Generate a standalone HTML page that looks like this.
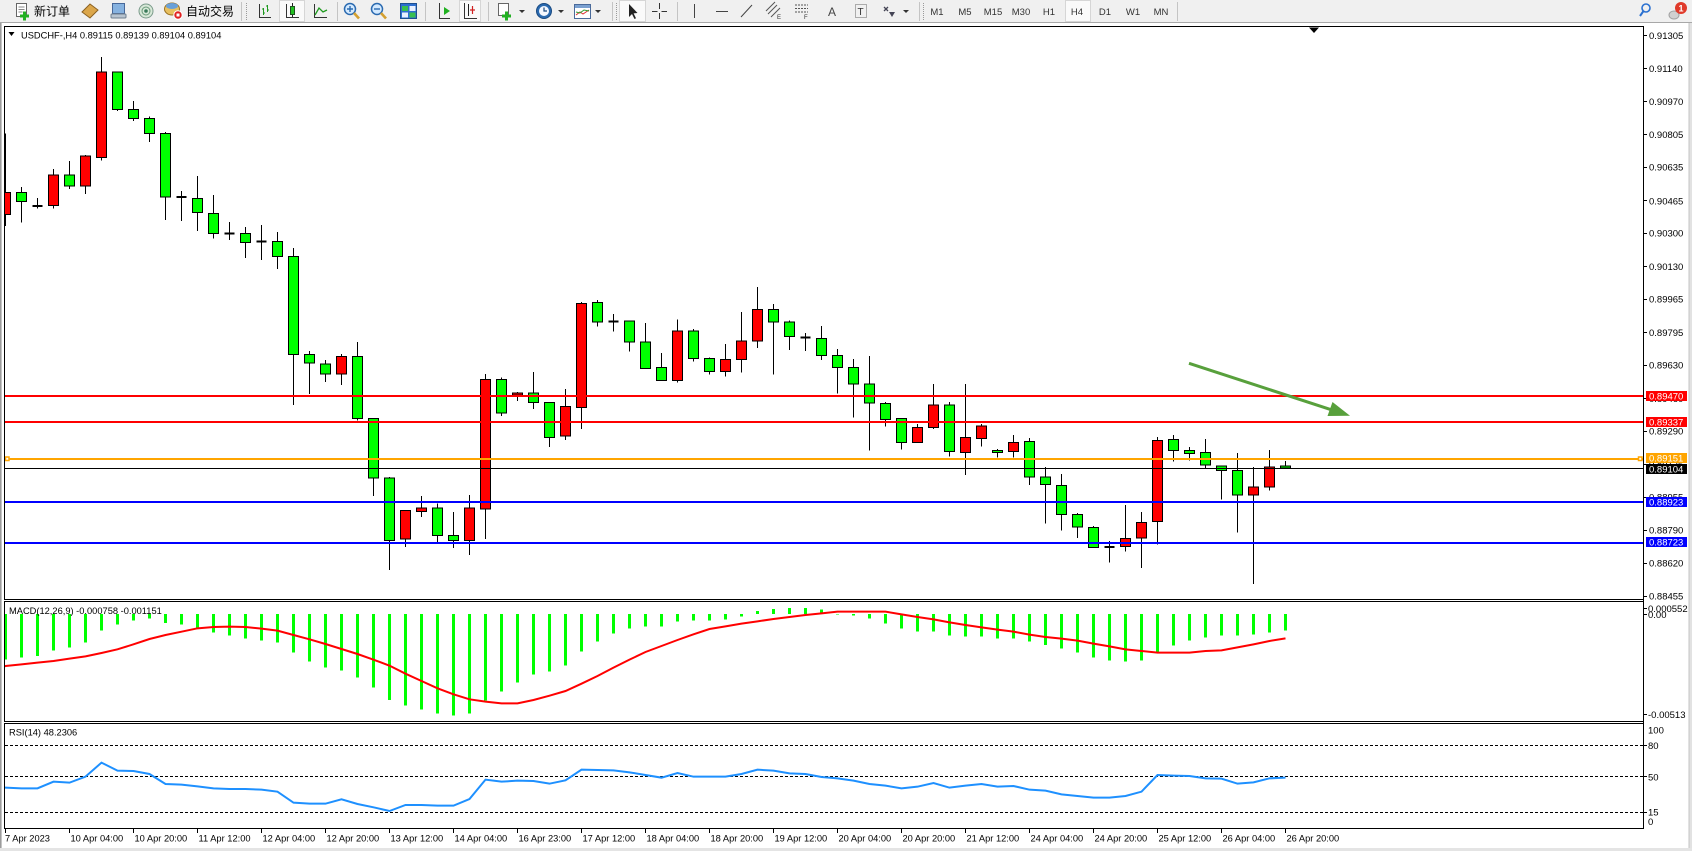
<!DOCTYPE html>
<html><head><meta charset="utf-8"><style>
html,body{margin:0;padding:0;background:#fff;width:1692px;height:851px;overflow:hidden}
svg{display:block}
text{font-family:"Liberation Sans","Noto Sans CJK SC",sans-serif}
</style></head><body>
<svg width="1692" height="851" viewBox="0 0 1692 851" xmlns="http://www.w3.org/2000/svg">
<defs>
<clipPath id="mc"><rect x="5" y="27" width="1638" height="572"/></clipPath>
<clipPath id="macdc"><rect x="5" y="602" width="1638" height="119"/></clipPath>
<clipPath id="rsic"><rect x="5" y="724" width="1638" height="104"/></clipPath>
</defs>
<rect x="0" y="0" width="1692" height="851" fill="#fff"/>

<!-- TOOLBAR -->
<rect x="0" y="0" width="1692" height="23" fill="#f0f0f0"/>
<line x1="0" y1="22.5" x2="1692" y2="22.5" stroke="#a8a8a8"/>
<!-- highlight boxes -->
<rect x="279.5" y="0.5" width="25" height="21" fill="#fafafa" stroke="#d6d6d6"/>
<rect x="459.5" y="0.5" width="21" height="21" fill="#fafafa" stroke="#d6d6d6"/>
<rect x="619.5" y="0.5" width="26" height="21" fill="#fafafa" stroke="#d6d6d6"/>
<rect x="1065.5" y="0.5" width="25" height="21" fill="#fafafa" stroke="#d6d6d6"/>
<!-- new order -->
<rect x="16.5" y="3.5" width="10" height="13" fill="#fff" stroke="#666"/>
<path d="M18.5 7h6M18.5 9.5h6M18.5 12h4" stroke="#888"/>
<path d="M20 16h9M24.5 11.5v9" stroke="#22b022" stroke-width="3"/>
<text x="34" y="15.5" font-size="12" fill="#000">新订单</text>
<!-- book -->
<polygon points="82,12 90,4 98,10 90,18" fill="#dba64a" stroke="#8a6020"/>
<!-- monitor -->
<rect x="112.5" y="3.5" width="12" height="10" fill="#86b2e0" stroke="#47689a"/>
<rect x="111" y="14" width="15" height="4" rx="1" fill="#b8c4d0" stroke="#70808f"/>
<!-- signal -->
<circle cx="146" cy="11" r="7" fill="#d8e8d8" stroke="#7a9a8a"/>
<circle cx="146" cy="11" r="4" fill="none" stroke="#6a9a7a"/>
<circle cx="146" cy="11" r="1.8" fill="#3a7a5a"/>
<!-- auto trading -->
<ellipse cx="172" cy="9" rx="7.5" ry="6" fill="#e8c060" stroke="#9a7020"/>
<ellipse cx="172" cy="6" rx="6" ry="3" fill="#6aa0d8"/>
<circle cx="178" cy="15" r="4.2" fill="#e02020" stroke="#fff"/>
<rect x="176.5" y="13.5" width="3" height="3" fill="#fff"/>
<text x="186" y="15.5" font-size="12" fill="#000">自动交易</text>
<line x1="241.5" y1="2" x2="241.5" y2="21" stroke="#c4c4c4"/>
<line x1="246.5" y1="3" x2="246.5" y2="20" stroke="#9a9a9a" stroke-dasharray="1,1"/>
<!-- chart type icons -->
<path d="M259.5 4V17.5H271" stroke="#333" fill="none"/>
<path d="M263.5 8V15M262 9h1.5M263.5 13h1.5M267.5 5V12M266 6h1.5M267.5 10h1.5" stroke="#1f9a1f" fill="none"/>
<path d="M286.5 4V17.5H299" stroke="#333" fill="none"/>
<line x1="292.5" y1="3" x2="292.5" y2="17" stroke="#222"/>
<rect x="290.5" y="6.5" width="4" height="8" fill="#22c022" stroke="#205020"/>
<path d="M314.5 4V17.5H327" stroke="#333" fill="none"/>
<path d="M315 15 L319 8 L323 12 L327 10" stroke="#1f9a1f" fill="none" stroke-width="1.3"/>
<line x1="337.5" y1="2" x2="337.5" y2="21" stroke="#c4c4c4"/>
<!-- zoom -->
<circle cx="350" cy="9" r="5.5" fill="#d4eaff" stroke="#2a6ab0" stroke-width="1.5"/>
<path d="M347 9h6M350 6v6" stroke="#2a6ab0" stroke-width="1.4"/>
<line x1="354" y1="13" x2="359" y2="18.5" stroke="#d4a030" stroke-width="2.6"/>
<circle cx="377" cy="9" r="5.5" fill="#d4eaff" stroke="#2a6ab0" stroke-width="1.5"/>
<path d="M374 9h6" stroke="#2a6ab0" stroke-width="1.4"/>
<line x1="381" y1="13" x2="386" y2="18.5" stroke="#d4a030" stroke-width="2.6"/>
<!-- tile -->
<rect x="400.5" y="3.5" width="16" height="15" fill="#2d6fd0" stroke="#1d4f90"/>
<rect x="402" y="6" width="6" height="5" fill="#3ac050"/><rect x="409.5" y="6" width="6" height="5" fill="#e8f0ff"/>
<rect x="402" y="12.5" width="6" height="5" fill="#e8f0ff"/><rect x="409.5" y="12.5" width="6" height="5" fill="#3ac050"/>
<line x1="425.5" y1="2" x2="425.5" y2="21" stroke="#c4c4c4"/>
<!-- shift / autoscroll -->
<path d="M439.5 3V18.5H450" stroke="#333" fill="none"/>
<polygon points="444,7 450,11 444,15" fill="#1fb01f"/>
<path d="M464.5 3V18.5H477" stroke="#333" fill="none"/>
<line x1="468.5" y1="4" x2="468.5" y2="16" stroke="#222"/>
<path d="M472.5 6v8M470 10h5" stroke="#d02020" stroke-width="1.2"/>
<line x1="488.5" y1="2" x2="488.5" y2="21" stroke="#c4c4c4"/>
<!-- new chart / clock / template -->
<rect x="498.5" y="3.5" width="10" height="12" fill="#fff" stroke="#666"/>
<path d="M502 16h9M506.5 11.5v9" stroke="#22b022" stroke-width="3"/>
<polygon points="519,10 525,10 522,13" fill="#333"/>
<circle cx="544" cy="11" r="7.5" fill="#2a6ab0" stroke="#1a4a80"/>
<circle cx="544" cy="11" r="5" fill="#f4f8ff"/>
<path d="M544 7.5V11H547" stroke="#1a4a80" fill="none" stroke-width="1.2"/>
<polygon points="558,10 564,10 561,13" fill="#333"/>
<rect x="574.5" y="4.5" width="16" height="14" fill="#fff" stroke="#4a6a9a"/>
<rect x="575" y="5" width="15" height="3" fill="#7aa0d0"/>
<path d="M576 15l4-3 3 2 6-4" stroke="#e03030" fill="none"/>
<path d="M576 12l4 1 4-3 5 1" stroke="#30a030" fill="none"/>
<polygon points="595,10 601,10 598,13" fill="#333"/>
<line x1="612.5" y1="2" x2="612.5" y2="21" stroke="#c4c4c4"/>
<line x1="616.5" y1="3" x2="616.5" y2="20" stroke="#9a9a9a" stroke-dasharray="1,1"/>
<!-- cursor / crosshair -->
<polygon points="629,4 629,17 632,14 634.5,19 636,18.3 633.6,13.4 637.5,13" fill="#222"/>
<path d="M659.5 3v6M659.5 13v6M652 11.5h5.5M661.5 11.5h5.5" stroke="#333"/>
<line x1="677.5" y1="2" x2="677.5" y2="21" stroke="#c4c4c4"/>
<!-- drawing tools -->
<line x1="694.5" y1="4" x2="694.5" y2="18" stroke="#444"/>
<line x1="716" y1="11.5" x2="728" y2="11.5" stroke="#444"/>
<line x1="741" y1="17" x2="752" y2="5" stroke="#444"/>
<path d="M768 14l9-9M771 17l9-9M766 11l9-9" stroke="#555"/>
<text x="777" y="19" font-size="6" fill="#333">E</text>
<path d="M795 5h13M795 8.5h13M795 12h13" stroke="#555" stroke-dasharray="2,1"/>
<text x="804" y="19" font-size="6" fill="#333">F</text>
<text x="828" y="16" font-size="12" fill="#444">A</text>
<rect x="855.5" y="4.5" width="11" height="13" fill="none" stroke="#666" stroke-dasharray="1,1"/>
<text x="857.5" y="15" font-size="10" fill="#333">T</text>
<path d="M884 7l4 4M884 11l4-4" stroke="#445" stroke-width="1.3"/>
<polygon points="889,12 895,12 892,17" fill="#445"/>
<polygon points="903,10 909,10 906,13" fill="#333"/>
<line x1="919.5" y1="2" x2="919.5" y2="21" stroke="#c4c4c4"/>
<line x1="923.5" y1="3" x2="923.5" y2="20" stroke="#9a9a9a" stroke-dasharray="1,1"/>
<!-- timeframes -->
<g font-size="9.5" fill="#333" text-anchor="middle">
<text x="937" y="15">M1</text><text x="965" y="15">M5</text><text x="993" y="15">M15</text><text x="1021" y="15">M30</text><text x="1049" y="15">H1</text><text x="1077" y="15">H4</text><text x="1105" y="15">D1</text><text x="1133" y="15">W1</text><text x="1161" y="15">MN</text>
</g>
<line x1="1177.5" y1="2" x2="1177.5" y2="21" stroke="#c4c4c4"/>
<!-- search / notify -->
<circle cx="1646" cy="8" r="4" fill="none" stroke="#2a70d0" stroke-width="1.6"/>
<line x1="1643.5" y1="11" x2="1640" y2="16" stroke="#2a70d0" stroke-width="2"/>
<ellipse cx="1674" cy="15" rx="5" ry="4" fill="#d0d0d0" stroke="#a0a0a0"/>
<circle cx="1681" cy="8" r="6" fill="#e03a2a"/>
<text x="1681" y="11.5" font-size="9" fill="#fff" text-anchor="middle" font-weight="bold">1</text>

<!-- WINDOW FRAME -->
<rect x="0" y="23" width="1.6" height="828" fill="#9c9c9c"/>
<rect x="1689" y="23" width="3" height="828" fill="#e2e2e2"/>
<line x1="1689" y1="23" x2="1689" y2="851" stroke="#c4c4c4"/>
<rect x="0" y="848" width="1692" height="3" fill="#e4e4e4"/>

<!-- MAIN PANE -->
<rect x="4.5" y="26.5" width="1639" height="573" fill="none" stroke="#000"/>
<polygon points="8.5,32 14.5,32 11.5,36" fill="#000"/>
<text x="21" y="38.5" font-size="9.3" fill="#000">USDCHF-,H4  0.89115 0.89139 0.89104 0.89104</text>
<polygon points="1309,27.5 1319,27.5 1314,33" fill="#000"/>

<g clip-path="url(#mc)">
<g transform="translate(5.5,45) scale(16,0.344388)" shape-rendering="crispEdges">
<path fill="none" stroke="#000" stroke-width="1" vector-effect="non-scaling-stroke" d="M0 257V525M1 412V516M2 444V475M3 360V475M4 337V418M5 320V432M6 35V336M7 79V192M8 163V221M9 207V282M10 253V508M11 424V511M12 380V540M13 436V562M14 514V566M15 528V618M16 523V624M17 543V650M18 590V1045M19 889V1013M20 915V978M21 897V987M22 862V1090M23 1084V1310M24 1254V1524M25 1351V1458M26 1310V1371M27 1332V1445M28 1356V1461M29 1307V1481M30 955V1434M31 965V1077M32 1008V1034M33 950V1057M34 1038V1167M35 999V1147M36 746V1115M37 741V818M38 781V832M39 802V890M40 807V939M41 894V974M42 797V980M43 825V919M44 907V957M45 868V963M46 775V951M47 703V880M48 752V957M49 800V885M50 836V888M51 816V914M52 883V1012M53 912V1082M54 903V1178M55 1037V1108M56 1084V1175M57 1101V1154M58 984V1115M59 1037V1195M60 984V1248M61 1101V1166M62 1173V1198M63 1132V1198M64 1141V1277M65 1225V1390M66 1246V1410M67 1359V1431M68 1397V1459M69 1440V1502M70 1336V1471M71 1356V1518M72 1138V1450M73 1132V1210M74 1167V1207M75 1144V1228M76 1223V1320M77 1185V1416M78 1225V1565M79 1176V1294M80 1208V1228"/>
<path fill="#ff0000" stroke="#000" stroke-width="1" vector-effect="non-scaling-stroke" d="M-0.3125 428h0.625V492h-0.625ZM2.6875 378h0.625V466h-0.625ZM4.6875 323h0.625V410h-0.625ZM5.6875 79h0.625V326h-0.625ZM20.6875 904h0.625V956h-0.625ZM24.6875 1351h0.625V1435h-0.625ZM25.6875 1345h0.625V1355h-0.625ZM28.6875 1345h0.625V1439h-0.625ZM29.6875 971h0.625V1348h-0.625ZM31.6875 1011h0.625V1017h-0.625ZM34.6875 1049h0.625V1136h-0.625ZM35.6875 750h0.625V1052h-0.625ZM41.6875 831h0.625V974h-0.625ZM44.6875 913h0.625V948h-0.625ZM45.6875 860h0.625V913h-0.625ZM46.6875 768h0.625V860h-0.625ZM56.6875 1110h0.625V1154h-0.625ZM57.6875 1046h0.625V1110h-0.625ZM59.6875 1139h0.625V1183h-0.625ZM60.6875 1107h0.625V1142h-0.625ZM62.6875 1154h0.625V1180h-0.625ZM69.6875 1433h0.625V1456h-0.625ZM70.6875 1386h0.625V1432h-0.625ZM71.6875 1148h0.625V1383h-0.625ZM77.6875 1284h0.625V1307h-0.625ZM78.6875 1226h0.625V1284h-0.625Z"/>
<path fill="#00ff00" stroke="#000" stroke-width="1" vector-effect="non-scaling-stroke" d="M0.6875 428h0.625V454h-0.625ZM3.6875 378h0.625V410h-0.625ZM6.6875 79h0.625V187h-0.625ZM7.6875 187h0.625V213h-0.625ZM8.6875 213h0.625V257h-0.625ZM9.6875 257h0.625V442h-0.625ZM11.6875 445h0.625V487h-0.625ZM12.6875 489h0.625V547h-0.625ZM14.6875 547h0.625V573h-0.625ZM16.6875 570h0.625V614h-0.625ZM17.6875 614h0.625V898h-0.625ZM18.6875 898h0.625V924h-0.625ZM19.6875 927h0.625V956h-0.625ZM21.6875 904h0.625V1084h-0.625ZM22.6875 1084h0.625V1258h-0.625ZM23.6875 1258h0.625V1439h-0.625ZM26.6875 1345h0.625V1424h-0.625ZM27.6875 1424h0.625V1439h-0.625ZM30.6875 971h0.625V1069h-0.625ZM32.6875 1011h0.625V1038h-0.625ZM33.6875 1038h0.625V1139h-0.625ZM36.6875 747h0.625V805h-0.625ZM38.6875 802h0.625V863h-0.625ZM39.6875 863h0.625V939h-0.625ZM40.6875 936h0.625V974h-0.625ZM42.6875 831h0.625V910h-0.625ZM43.6875 910h0.625V948h-0.625ZM47.6875 768h0.625V805h-0.625ZM48.6875 805h0.625V846h-0.625ZM50.6875 852h0.625V901h-0.625ZM51.6875 901h0.625V936h-0.625ZM52.6875 936h0.625V985h-0.625ZM53.6875 985h0.625V1040h-0.625ZM54.6875 1041h0.625V1087h-0.625ZM55.6875 1084h0.625V1154h-0.625ZM58.6875 1046h0.625V1180h-0.625ZM61.6875 1177h0.625V1183h-0.625ZM63.6875 1151h0.625V1255h-0.625ZM64.6875 1255h0.625V1276h-0.625ZM65.6875 1279h0.625V1363h-0.625ZM66.6875 1363h0.625V1400h-0.625ZM67.6875 1401h0.625V1459h-0.625ZM72.6875 1145h0.625V1177h-0.625ZM73.6875 1177h0.625V1186h-0.625ZM74.6875 1183h0.625V1220h-0.625ZM75.6875 1223h0.625V1235h-0.625ZM76.6875 1235h0.625V1307h-0.625ZM79.6875 1222h0.625V1228h-0.625Z"/>
<path fill="none" stroke="#000" stroke-width="2" vector-effect="non-scaling-stroke" d="M1.6875 467h0.625M10.6875 441h0.625M13.6875 547h0.625M15.6875 571h0.625M37.6875 803h0.625M49.6875 850h0.625M68.6875 1457h0.625"/>
</g>
<!-- level lines -->
<g shape-rendering="crispEdges">
<rect x="5" y="395" width="1638" height="2" fill="#ff0000"/>
<rect x="5" y="421" width="1638" height="2" fill="#ff0000"/>
<rect x="5" y="458" width="1638" height="2" fill="#ffa500"/>
<rect x="5" y="468" width="1638" height="1" fill="#000"/>
<rect x="5" y="501" width="1638" height="2" fill="#0000ff"/>
<rect x="5" y="542" width="1638" height="2" fill="#0000ff"/>
</g>
<rect x="5.5" y="457" width="3.5" height="3.5" fill="#fff" stroke="#ffa500" stroke-width="1.5"/>
<rect x="1638.5" y="457" width="3.5" height="3.5" fill="#fff" stroke="#ffa500" stroke-width="1.5"/>
<!-- arrow -->
<line x1="1189" y1="363.3" x2="1333" y2="410.3" stroke="#58a03c" stroke-width="3"/>
<polygon points="1350,415.8 1327.5,416 1332.5,402" fill="#58a03c"/>
</g>

<!-- PRICE AXIS -->
<line x1="1643.5" y1="26.5" x2="1643.5" y2="828.5" stroke="#000"/>
<path stroke="#000" d="M1643.5 35.5h3.5M1643.5 68.5h3.5M1643.5 101.5h3.5M1643.5 134.5h3.5M1643.5 167.5h3.5M1643.5 200.5h3.5M1643.5 233.5h3.5M1643.5 266.5h3.5M1643.5 299.5h3.5M1643.5 332.5h3.5M1643.5 365.5h3.5M1643.5 398.5h3.5M1643.5 431.5h3.5M1643.5 464.5h3.5M1643.5 497.5h3.5M1643.5 530.5h3.5M1643.5 563.5h3.5M1643.5 596.5h3.5"/>
<g font-size="9.5" fill="#000">
<text x="1649" y="38.8">0.91305</text>
<text x="1649" y="72">0.91140</text>
<text x="1649" y="105">0.90970</text>
<text x="1649" y="138">0.90805</text>
<text x="1649" y="170.5">0.90635</text>
<text x="1649" y="204.3">0.90465</text>
<text x="1649" y="236.7">0.90300</text>
<text x="1649" y="270">0.90130</text>
<text x="1649" y="302.7">0.89965</text>
<text x="1649" y="336">0.89795</text>
<text x="1649" y="368.7">0.89630</text>
<text x="1649" y="402">0.89460</text>
<text x="1649" y="434.7">0.89290</text>
<text x="1649" y="467.7">0.89125</text>
<text x="1649" y="500.5">0.88955</text>
<text x="1649" y="533.4">0.88790</text>
<text x="1649" y="566.7">0.88620</text>
<text x="1649" y="599.5">0.88455</text>
</g>
<g shape-rendering="crispEdges">
<rect x="1646" y="391" width="41" height="10" fill="#ff0000"/>
<rect x="1646" y="417" width="41" height="10" fill="#ff0000"/>
<rect x="1646" y="453" width="41" height="10" fill="#ffa500"/>
<rect x="1646" y="464" width="41" height="10" fill="#000"/>
<rect x="1646" y="497" width="41" height="10" fill="#0000ff"/>
<rect x="1646" y="537" width="41" height="10" fill="#0000ff"/>
</g>
<g font-size="9.5" fill="#fff">
<text x="1649" y="399.5">0.89470</text>
<text x="1649" y="425.5">0.89337</text>
<text x="1649" y="461.5">0.89151</text>
<text x="1649" y="472.5">0.89104</text>
<text x="1649" y="505.5">0.88923</text>
<text x="1649" y="545.5">0.88723</text>
</g>

<!-- MACD PANE -->
<rect x="4.5" y="601.5" width="1639" height="120" fill="none" stroke="#000"/>
<g clip-path="url(#macdc)">
<g transform="translate(5.5,595) scale(16,0.333333)">
<path fill="none" stroke="#00ff00" stroke-width="3" vector-effect="non-scaling-stroke" shape-rendering="crispEdges" d="M0 57V193M1 57V188M2 57V183M3 57V167M4 57V158M5 57V143M6 57V107M7 57V89M8 57V77M9 57V71M10 57V84M11 57V89M12 57V101M13 57V113M14 57V122M15 57V131M16 57V137M17 57V143M18 57V173M19 57V200M20 57V218M21 57V227M22 57V248M23 57V278M24 57V315M25 57V332M26 57V344M27 57V356M28 57V362M29 57V356M30 57V316M31 57V290M32 57V263M33 57V239M34 57V230M35 57V212M36 57V170M37 57V140M38 57V116M39 57V101M40 57V95M41 57V95M42 57V80M43 57V77M44 57V77M45 57V74M46 57V65M47 57V48M48 57V42M49 57V39M50 57V39M51 57V43M52 57V59M53 57V61M54 57V71M55 57V86M56 57V101M57 57V110M58 57V110M59 57V122M60 57V125M61 57V125M62 57V131M63 57V131M64 57V140M65 57V150M66 57V161M67 57V173M68 57V188M69 57V197M70 57V200M71 57V197M72 57V172M73 57V152M74 57V137M75 57V128M76 57V122M77 57V122M78 57V119M79 57V113M80 57V107"/>
<polyline fill="none" stroke="#ff0000" stroke-width="2" vector-effect="non-scaling-stroke" points="-0.07,214 0,213 1,208 2,203 3,198 4,191 5,184 6,174 7,163 8,148 9,132 10,120 11,110 12,100 13,96 14,95 15,96 16,101 17,107 18,120 19,133 20,147 21,162 22,177 23,194 24,212 25,236 26,258 27,280 28,298 29,313 30,320 31,325 32,325 33,315 34,302 35,288 36,266 37,243 38,218 39,194 40,171 41,153 42,135 43,118 44,102 45,94 46,86 47,79 48,72 49,66 50,60 51,55 52,50 53,50 54,50 55,50 56,58 57,66 58,73 59,82 60,90 61,97 62,104 63,110 64,119 65,126 66,131 67,137 68,146 69,154 70,163 71,168 72,173 73,173 74,173 75,168 76,166 77,157 78,148 79,138 80,130"/>
</g>
</g>
<text x="9" y="614" font-size="9.3" fill="#000">MACD(12,26,9) -0.000758 -0.001151</text>
<path stroke="#000" d="M1643.5 608.5h3.5M1643.5 614.5h3.5M1643.5 714.5h3.5"/>
<g font-size="9.5" fill="#000">
<text x="1648" y="611.8">0.000552</text>
<text x="1648" y="618">0.00</text>
<text x="1648" y="717.8">-0.00513</text>
</g>

<!-- RSI PANE -->
<rect x="4.5" y="723.5" width="1639" height="105" fill="none" stroke="#000"/>
<g stroke="#000" stroke-dasharray="3,2" shape-rendering="crispEdges">
<line x1="5" y1="745.5" x2="1643" y2="745.5"/>
<line x1="5" y1="776.5" x2="1643" y2="776.5"/>
<line x1="5" y1="812.5" x2="1643" y2="812.5"/>
</g>
<g clip-path="url(#rsic)">
<g transform="translate(5.5,595) scale(16,0.333333)">
<polyline fill="none" stroke="#1e90ff" stroke-width="2" vector-effect="non-scaling-stroke" points="-0.07,578 0,578 1,580 2,580 3,560 4,563 5,545 6,503 7,527 8,528 9,537 10,567 11,569 12,574 13,580 14,582 15,582 16,584 17,590 18,623 19,626 20,626 21,613 22,627 23,637 24,648 25,630 26,630 27,632 28,632 29,612 30,554 31,560 32,557 33,558 34,566 35,556 36,524 37,525 38,526 39,532 40,540 41,548 42,534 43,545 44,545 45,545 46,537 47,524 48,527 49,535 50,537 51,546 52,550 53,557 54,567 55,572 56,580 57,575 58,564 59,578 60,572 61,567 62,575 63,573 64,584 65,587 66,598 67,603 68,608 69,608 70,603 71,590 72,540 73,542 74,543 75,550 76,551 77,566 78,562 79,550 80,548"/>
</g>
</g>
<text x="9" y="735.5" font-size="9.3" fill="#000">RSI(14) 48.2306</text>
<path stroke="#000" d="M1643.5 745.5h3.5M1643.5 776.5h3.5M1643.5 812.5h3.5"/>
<g font-size="9.5" fill="#000">
<text x="1648" y="733.5">100</text>
<text x="1648" y="749">80</text>
<text x="1648" y="780.3">50</text>
<text x="1648" y="815.5">15</text>
<text x="1648" y="825">0</text>
</g>

<!-- TIME AXIS -->
<path stroke="#000" shape-rendering="crispEdges" d="M5.5 828v5M69.5 828v5M133.5 828v5M197.5 828v5M261.5 828v5M325.5 828v5M389.5 828v5M453.5 828v5M517.5 828v5M581.5 828v5M645.5 828v5M709.5 828v5M773.5 828v5M837.5 828v5M901.5 828v5M965.5 828v5M1029.5 828v5M1093.5 828v5M1157.5 828v5M1221.5 828v5M1285.5 828v5"/>
<g font-size="9.3" fill="#000">
<text x="5" y="841.5">7 Apr 2023</text>
<text x="70.5" y="841.5">10 Apr 04:00</text>
<text x="134.5" y="841.5">10 Apr 20:00</text>
<text x="198.5" y="841.5">11 Apr 12:00</text>
<text x="262.5" y="841.5">12 Apr 04:00</text>
<text x="326.5" y="841.5">12 Apr 20:00</text>
<text x="390.5" y="841.5">13 Apr 12:00</text>
<text x="454.5" y="841.5">14 Apr 04:00</text>
<text x="518.5" y="841.5">16 Apr 23:00</text>
<text x="582.5" y="841.5">17 Apr 12:00</text>
<text x="646.5" y="841.5">18 Apr 04:00</text>
<text x="710.5" y="841.5">18 Apr 20:00</text>
<text x="774.5" y="841.5">19 Apr 12:00</text>
<text x="838.5" y="841.5">20 Apr 04:00</text>
<text x="902.5" y="841.5">20 Apr 20:00</text>
<text x="966.5" y="841.5">21 Apr 12:00</text>
<text x="1030.5" y="841.5">24 Apr 04:00</text>
<text x="1094.5" y="841.5">24 Apr 20:00</text>
<text x="1158.5" y="841.5">25 Apr 12:00</text>
<text x="1222.5" y="841.5">26 Apr 04:00</text>
<text x="1286.5" y="841.5">26 Apr 20:00</text>
</g>
</svg>
</body></html>
